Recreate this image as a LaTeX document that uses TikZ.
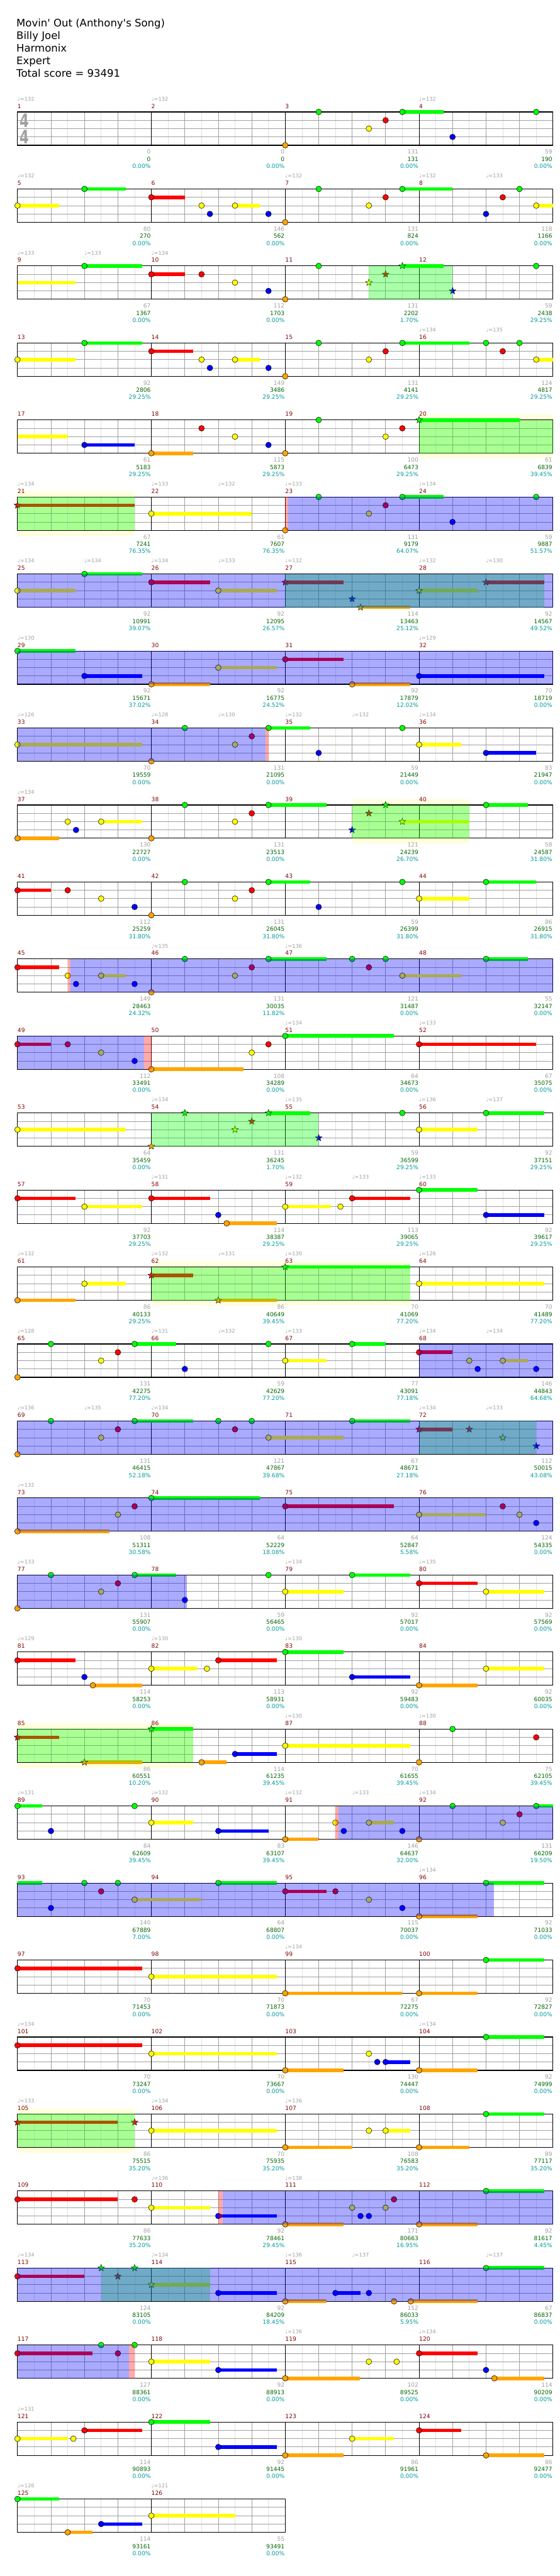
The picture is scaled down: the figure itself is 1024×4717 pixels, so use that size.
\documentclass[tikz,border=0pt]{standalone}
\usepackage{fontspec}
\setmainfont{DejaVu Sans}
\usetikzlibrary{shapes.geometric}
\definecolor{gfret}{HTML}{00FF00}
\definecolor{rfret}{HTML}{FF0000}
\definecolor{yfret}{HTML}{FFFF00}
\definecolor{bfret}{HTML}{0000FF}
\definecolor{ofret}{HTML}{FFA500}
\colorlet{lane0}{gfret}
\colorlet{lane1}{rfret}
\colorlet{lane2}{yfret}
\colorlet{lane3}{bfret}
\colorlet{lane4}{ofret}
\definecolor{barred}{HTML}{800000}
\definecolor{softgrey}{HTML}{A0A0A0}
\definecolor{sumgreen}{HTML}{006400}
\definecolor{pctteal}{HTML}{009999}
\definecolor{gridlite}{HTML}{E0E0E0}
\definecolor{spband}{HTML}{FFFFDD}
% one row of gems: sustains first, heads on top
\newcommand{\sustains}[1]{\foreach \a/\e/\l in {#1} {\draw[sus,lane\l] (\a,\l) -- (\e,\l);}}
\newcommand{\gems}[1]{\foreach \a/\l in {#1} {\draw[nt,fill=lane\l] (\a,\l) circle[radius=5.2pt];}}
\newcommand{\stargems}[1]{\foreach \a/\l in {#1} {\node[spstar,fill=lane\l] at (\a,\l) {};}}

\begin{document}
\begin{tikzpicture}[x=1pt,y=-1pt,
  chartrow/.style={shift={(32pt,{-205pt-141pt*#1})},x=61.25pt,y=-15.25pt},
  nt/.style={draw=black,line width=0.6pt},
  sus/.style={line width=6.5pt},
  spstar/.style={star,star points=5,star point ratio=2.4,minimum size=13pt,inner sep=0pt,draw=black,line width=0.5pt},
  spzone/.style={fill=green,fill opacity=0.333},
  odzone/.style={fill=blue,fill opacity=0.333},
  actzone/.style={fill=red,fill opacity=0.333},
  band/.style={fill=spband},
  head/.style={anchor=base west,inner sep=0pt,font=\fontsize{19}{23}\selectfont},
  barno/.style={anchor=base west,inner sep=0pt,text=barred,font=\fontsize{10.5}{12}\selectfont},
  tempo/.style={anchor=base west,inner sep=0pt,text=softgrey,font=\fontsize{9.5}{11}\selectfont},
  lbl/.style={anchor=base east,inner sep=0pt,font=\fontsize{10.5}{12}\selectfont}
]
\useasboundingbox (0,0) rectangle (1024,4717);
\fill[white] (0,0) rectangle (1024,4717);

\node[head] (title) at (30,49) {Movin{\textquotesingle} Out (Anthony{\textquotesingle}s Song)};
\node[head] (artist) at (30,72) {Billy Joel};
\node[head] (charter) at (30,95) {Harmonix};
\node[head] (level) at (30,118) {Expert};
\node[head] (total) at (30,141) {Total score = 93491};

% star power bands behind the staves
\begin{scope}[chartrow=4]\fill[band] (12,-0.66) rectangle (16,4.66);\end{scope}
\begin{scope}[chartrow=5]\fill[band] (0,-0.66) rectangle (3.5,4.66);\end{scope}
\begin{scope}[chartrow=9]\fill[band] (10,-0.66) rectangle (13.5,4.66);\end{scope}
\begin{scope}[chartrow=15]\fill[band] (4,-0.66) rectangle (11.74,4.66);\end{scope}
\begin{scope}[chartrow=21]\fill[band] (0,-0.66) rectangle (5.25,4.66);\end{scope}
\begin{scope}[chartrow=26]\fill[band] (0,-0.66) rectangle (3.5,4.66);\end{scope}

% staves
\foreach \r in {0,...,31}{
  \pgfmathtruncatemacro\nb{ifthenelse(\r==31,8,16)}
  \pgfmathtruncatemacro\nm{\nb/4-1}
  \begin{scope}[chartrow=\r]
    \foreach \k in {1,...,\nb} \draw[gridlite,line width=0.8pt] (\k-0.5,0) -- (\k-0.5,4);
    \foreach \k in {1,...,\nb} \draw[softgrey,line width=0.9pt] (\k,0) -- (\k,4);
    \foreach \s in {1,2,3} \draw[softgrey,line width=1pt] (0,\s) -- (\nb,\s);
    \foreach \k in {1,...,\nm} \draw[black,line width=0.9pt] (4*\k,0) -- (4*\k,4);
    \draw[line width=1.3pt] (0,0) rectangle (\nb,4);
  \end{scope}
}
\node[anchor=base,inner sep=0pt,text=softgrey,xscale=0.72,font=\fontsize{34}{34}\selectfont\bfseries] (tsup) at (44.5,233) {4};
\node[anchor=base,inner sep=0pt,text=softgrey,xscale=0.72,font=\fontsize{34}{34}\selectfont\bfseries] (tsdown) at (44.5,263) {4};

% bar numbers and scores
\foreach \m/\s/\t/\p in {1/0/0/0.00,2/0/0/0.00,3/131/131/0.00,4/59/190/0.00,
  5/80/270/0.00,6/146/562/0.00,7/131/824/0.00,8/118/1166/0.00,
  9/67/1367/0.00,10/112/1703/0.00,11/131/2202/1.70,12/59/2438/29.25,
  13/92/2806/29.25,14/149/3486/29.25,15/131/4141/29.25,16/124/4817/29.25,
  17/61/5183/29.25,18/115/5873/29.25,19/100/6473/29.25,20/61/6839/39.45,
  21/67/7241/76.35,22/61/7607/76.35,23/131/9179/64.07,24/59/9887/51.57,
  25/92/10991/39.07,26/92/12095/26.57,27/114/13463/25.12,28/92/14567/49.52,
  29/92/15671/37.02,30/92/16775/24.52,31/92/17879/12.02,32/70/18719/0.00,
  33/70/19559/0.00,34/131/21095/0.00,35/59/21449/0.00,36/83/21947/0.00,
  37/130/22727/0.00,38/131/23513/0.00,39/121/24239/26.70,40/58/24587/31.80,
  41/112/25259/31.80,42/131/26045/31.80,43/59/26399/31.80,44/86/26915/31.80,
  45/149/28463/24.32,46/131/30035/11.82,47/121/31487/0.00,48/55/32147/0.00,
  49/112/33491/0.00,50/108/34289/0.00,51/64/34673/0.00,52/67/35075/0.00,
  53/64/35459/0.00,54/131/36245/1.70,55/59/36599/29.25,56/92/37151/29.25,
  57/92/37703/29.25,58/114/38387/29.25,59/113/39065/29.25,60/92/39617/29.25,
  61/86/40133/29.25,62/86/40649/39.45,63/70/41069/77.20,64/70/41489/77.20,
  65/131/42275/77.20,66/59/42629/77.20,67/77/43091/77.18,68/146/44843/64.68,
  69/131/46415/52.18,70/121/47867/39.68,71/67/48671/27.18,72/112/50015/43.08,
  73/108/51311/30.58,74/64/52229/18.08,75/64/52847/5.58,76/124/54335/0.00,
  77/131/55907/0.00,78/59/56465/0.00,79/92/57017/0.00,80/92/57569/0.00,
  81/114/58253/0.00,82/113/58931/0.00,83/92/59483/0.00,84/92/60035/0.00,
  85/86/60551/10.20,86/114/61235/39.45,87/70/61655/39.45,88/75/62105/39.45,
  89/84/62609/39.45,90/83/63107/39.45,91/146/64637/32.00,92/131/66209/19.50,
  93/140/67889/7.00,94/64/68807/0.00,95/115/70037/0.00,96/92/71033/0.00,
  97/70/71453/0.00,98/70/71873/0.00,99/67/72275/0.00,100/92/72827/0.00,
  101/70/73247/0.00,102/70/73667/0.00,103/130/74447/0.00,104/92/74999/0.00,
  105/86/75515/35.20,106/70/75935/35.20,107/108/76583/35.20,108/89/77117/35.20,
  109/86/77633/35.20,110/92/78461/29.45,111/171/80663/16.95,112/92/81617/4.45,
  113/124/83105/0.00,114/92/84209/18.45,115/152/86033/5.95,116/67/86837/0.00,
  117/127/88361/0.00,118/92/88913/0.00,119/102/89525/0.00,120/114/90209/0.00,
  121/114/90893/0.00,122/92/91445/0.00,123/86/91961/0.00,124/86/92477/0.00,
  125/114/93161/0.00,126/55/93491/0.00}{
  \pgfmathtruncatemacro\r{(\m-1)/4}
  \pgfmathtruncatemacro\c{mod(\m-1,4)}
  \begin{scope}[chartrow=\r]
    \node[barno,yshift=6.8pt] at (4*\c,0) {\m};
    \node[lbl,text=softgrey,xshift=-1pt,yshift=-16pt] at (4*\c+4,4) {\s};
    \node[lbl,text=sumgreen,xshift=-1pt,yshift=-29.3pt] at (4*\c+4,4) {\t};
    \node[lbl,text=pctteal,xshift=-1pt,yshift=-42.2pt] at (4*\c+4,4) {\p\%};
  \end{scope}
}

% tempo marks
\foreach \r/\b/\v in {0/0/132,0/4/132,0/12/132,1/0/132,1/8/132,1/12/132,1/14/133,
  2/0/133,2/2/133,2/4/134,3/12/134,3/14/135,
  5/0/134,5/4/133,5/6/132,5/8/133,5/12/134,
  6/0/134,6/2/134,6/4/134,6/6/133,6/8/132,6/12/132,6/14/130,
  7/0/130,7/12/129,8/0/126,8/4/128,8/6/130,8/8/132,8/10/132,8/12/134,
  9/0/134,11/4/135,11/8/136,12/8/134,12/12/133,
  13/4/134,13/8/135,13/12/136,13/14/137,14/4/131,14/8/132,14/10/133,14/12/133,
  15/0/132,15/4/132,15/6/131,15/8/130,15/12/126,
  16/0/128,16/4/131,16/6/132,16/8/133,16/12/134,16/14/134,
  17/0/136,17/2/135,17/4/134,17/12/134,17/14/133,18/0/132,
  19/0/133,19/8/134,19/12/135,20/0/129,20/4/130,20/8/130,21/8/130,21/12/130,
  22/0/131,22/4/132,22/8/132,22/10/133,22/12/134,23/12/134,24/8/134,
  25/0/134,25/12/134,26/0/133,26/4/134,26/8/136,27/4/136,27/8/138,
  28/0/134,28/4/134,28/8/136,28/10/137,28/14/137,29/8/136,29/12/134,
  30/0/131,31/0/126,31/4/121}{
  \begin{scope}[chartrow=\r]
    \node[tempo,yshift=20.5pt] at (\b,0) {♩=\v};
  \end{scope}
}

% gems, row by row
\begin{scope}[chartrow=0]
  \sustains{11.5/12.73/0}
  \gems{8/4,9/0,10.5/2,11/1,11.5/0,13/3,15.5/0}
\end{scope}
\begin{scope}[chartrow=1]
  \sustains{0/1.24/2,2/3.24/0,4/5/1,6.5/7.25/2,11.5/13/0,15.5/16/2}
  \gems{0/2,2/0,4/1,5.5/2,5.75/3,6.5/2,7.5/3,8/4,9/0,10.5/2,11/1,11.5/0,14/3,14.5/1,15/0,15.5/2}
\end{scope}
\begin{scope}[chartrow=2]
  \sustains{0/1.73/2,2/3.73/0,4/5/1,11.5/12.73/0}
  \gems{2/0,4/1,5.5/1,6.5/2,7.5/3,8/4,9/0,15.5/0}
  \stargems{10.5/2,11/1,11.5/0,13/3}
  \fill[spzone] (10.5,0) rectangle (13,4);
\end{scope}
\begin{scope}[chartrow=3]
  \sustains{0/1.73/2,2/3.73/0,4/5.25/1,6.5/7.25/2,11.5/13.5/0,15.5/16/2}
  \gems{0/2,2/0,4/1,5.5/2,5.75/3,6.5/2,7.5/3,8/4,9/0,10.5/2,11/1,11.5/0,14/0,14.5/1,15/0,15.5/2}
\end{scope}
\begin{scope}[chartrow=4]
  \sustains{0/1.5/2,2/3.5/3,4/5.25/4,12/15/0}
  \gems{2/3,4/4,5.5/1,6.5/2,7.5/3,8/4,9/0,11/2,11.5/1}
  \stargems{12/0}
  \fill[spzone] (12,0) rectangle (16,4);
\end{scope}
\begin{scope}[chartrow=5]
  \sustains{0/3.5/1,4/7/2,11.5/12.73/0}
  \gems{4/2,8/4,9/0,10.5/2,11/1,11.5/0,13/3,15.5/0}
  \stargems{0/1}
  \fill[spzone] (0,0) rectangle (3.5,4);
  \fill[actzone] (8,0) rectangle (8.08,4);
  \fill[odzone] (8.08,0) rectangle (16,4);
\end{scope}
\begin{scope}[chartrow=6]
  \sustains{0/1.73/2,2/3.73/0,4/5.75/1,6/7.75/2,8/9.74/1,10.25/11.74/4,12/13.75/2,14/15.74/1}
  \gems{0/2,2/0,4/1,6/2}
  \stargems{8/1,10/3,10.25/4,12/2,14/1}
  \fill[spzone] (8,0) rectangle (15.74,4);
  \fill[odzone] (0,0) rectangle (16,4);
\end{scope}
\begin{scope}[chartrow=7]
  \sustains{0/1.73/0,2/3.73/3,4/5.75/4,6/7.75/2,8/9.74/1,10/11.74/4,12/15.74/3}
  \gems{0/0,2/3,4/4,6/2,8/1,10/4,12/3}
  \fill[odzone] (0,0) rectangle (16,4);
\end{scope}
\begin{scope}[chartrow=8]
  \sustains{0/3.73/2,7.5/8.74/0,12/13.25/2,14/15.5/3}
  \gems{0/2,4/4,5/0,6.5/2,7/1,7.5/0,9/3,11.5/0,12/2,14/3}
  \fill[odzone] (0,0) rectangle (7.42,4);
  \fill[actzone] (7.42,0) rectangle (7.5,4);
\end{scope}
\begin{scope}[chartrow=9]
  \sustains{0/1.24/4,2.5/3.73/2,7.5/9.24/0,11.5/13.5/2,14/15.25/0}
  \gems{0/4,1.5/2,1.75/3,2.5/2,4/4,5/0,6.5/2,7/1,7.5/0,14/0}
  \stargems{10/3,10.5/1,11/0,11.5/2}
  \fill[spzone] (10,0) rectangle (13.5,4);
\end{scope}
\begin{scope}[chartrow=10]
  \sustains{0/1/1,7.5/8.74/0,12/13.5/2,14/15.5/0}
  \gems{0/1,1.5/1,2.5/2,3.5/3,4/4,5/0,6.5/2,7/1,7.5/0,9/3,11.5/0,12/2,14/0}
\end{scope}
\begin{scope}[chartrow=11]
  \sustains{0/1.24/1,2.5/3.24/2,7.5/9.24/0,11.5/13.25/2,14/15.25/0}
  \gems{0/1,1.5/2,1.75/3,2.5/2,3.5/3,4/4,5/0,6.5/2,7/1,7.5/0,10/0,10.5/1,11/0,11.5/2,14/0}
  \fill[actzone] (1.5,0) rectangle (1.58,4);
  \fill[odzone] (1.58,0) rectangle (16,4);
\end{scope}
\begin{scope}[chartrow=12]
  \sustains{0/1/1,4/6.75/4,8/11.24/0,12/15.5/1}
  \gems{0/1,1.5/1,2.5/2,3.5/3,4/4,7/2,7.5/1,8/0,12/1}
  \fill[odzone] (0,0) rectangle (3.78,4);
  \fill[actzone] (3.78,0) rectangle (4,4);
\end{scope}
\begin{scope}[chartrow=13]
  \sustains{0/3.24/2,7.5/8.74/0,12/13.75/2,14/15.74/0}
  \gems{0/2,11.5/0,12/2,14/0}
  \stargems{4/4,5/0,6.5/2,7/1,7.5/0,9/3}
  \fill[spzone] (4,0) rectangle (9,4);
\end{scope}
\begin{scope}[chartrow=14]
  \sustains{0/1.73/1,2/3.73/2,4/5.75/1,6.25/7.75/4,8/9.36/2,10/11.74/1,12/13.75/0,14/15.74/3}
  \gems{0/1,2/2,4/1,6/3,6.25/4,8/2,9.65/2,10/1,12/0,14/3}
\end{scope}
\begin{scope}[chartrow=15]
  \sustains{0/1.73/4,2/3.24/2,4/5.25/1,6/7.75/4,8/11.74/0,12/15.74/2}
  \gems{0/4,2/2,12/2}
  \stargems{4/1,6/4,8/0}
  \fill[spzone] (4,0) rectangle (11.74,4);
\end{scope}
\begin{scope}[chartrow=16]
  \sustains{3.5/4.75/0,8/9.24/2,10/11/0,12/13/1,14.5/15.25/2}
  \gems{0/4,1/0,2.5/2,3/1,3.5/0,5/3,7.5/0,8/2,10/0,12/1,13.5/2,13.75/3,14.5/2,15.5/3}
  \fill[odzone] (12,0) rectangle (16,4);
\end{scope}
\begin{scope}[chartrow=17]
  \sustains{3.5/5.25/0,7.5/9.74/2,10/11.74/0,12/13/1}
  \gems{0/4,1/0,2.5/2,3/1,3.5/0,6/0,6.5/1,7/0,7.5/2,10/0}
  \stargems{12/1,13.5/1,14.5/2,15.5/3}
  \fill[spzone] (12,0) rectangle (15.5,4);
  \fill[odzone] (0,0) rectangle (16,4);
\end{scope}
\begin{scope}[chartrow=18]
  \sustains{0/2.74/4,4/7.25/0,8/11.24/1,12/14/2}
  \gems{0/4,3/2,3.5/1,4/0,8/1,12/2,14.5/1,15/2,15.5/3}
  \fill[odzone] (0,0) rectangle (16,4);
\end{scope}
\begin{scope}[chartrow=19]
  \sustains{3.5/4.75/0,8/9.74/2,10/11.74/0,12/13.75/1,14/15.74/2}
  \gems{0/4,1/0,2.5/2,3/1,3.5/0,5/3,7.5/0,8/2,10/0,12/1,14/2}
  \fill[odzone] (0,0) rectangle (5.06,4);
\end{scope}
\begin{scope}[chartrow=20]
  \sustains{0/1.73/1,2.25/3.73/4,4/5.37/2,6/7.75/1,8/9.74/0,10/11.74/3,12/13.75/4,14/15.74/2}
  \gems{0/1,2/3,2.25/4,4/2,5.66/2,6/1,8/0,10/3,12/4,14/2}
\end{scope}
\begin{scope}[chartrow=21]
  \sustains{0/1.24/1,2/3.73/4,4/5.25/0,5.5/6.25/4,6.5/7.75/3,8/11.74/2}
  \gems{5.5/4,6.5/3,8/2,12/4,13/0,15.5/1}
  \stargems{0/1,2/4,4/0}
  \fill[spzone] (0,0) rectangle (5.25,4);
\end{scope}
\begin{scope}[chartrow=22]
  \sustains{0/0.74/0,4/5.25/2,6/7.5/3,8/9/4,10.5/11.24/2,15.5/16/0}
  \gems{0/0,1/3,3.5/0,4/2,6/3,8/4,9.5/2,9.75/3,10.5/2,11.5/3,12/4,13/0,14.5/2,15/1,15.5/0}
  \fill[actzone] (9.5,0) rectangle (9.59,4);
  \fill[odzone] (9.59,0) rectangle (16,4);
\end{scope}
\begin{scope}[chartrow=23]
  \sustains{0/0.74/0,3.5/5.5/2,6/7.75/0,8/9.24/1,12/13.75/4,14/15.74/0}
  \gems{1/3,2/0,2.5/1,3/0,3.5/2,6/0,8/1,9.5/1,10.5/2,11.5/3,12/4,14/0}
  \fill[odzone] (0,0) rectangle (14.23,4);
\end{scope}
\begin{scope}[chartrow=24]
  \sustains{0/3.73/1,4/7.75/2,8/11.49/4,12/13.75/4,14/15.74/0}
  \gems{0/1,4/2,8/4,12/4,14/0}
\end{scope}
\begin{scope}[chartrow=25]
  \sustains{0/3.73/1,4/7.75/2,8/9.74/4,11/11.74/3,12/13.75/4,14/15.74/0}
  \gems{0/1,4/2,8/4,10.5/2,10.75/3,11/3,12/4,14/0}
\end{scope}
\begin{scope}[chartrow=26]
  \sustains{0/3/1,4/7.75/2,8/10/4,11/11.74/2,12/13.5/4,14/15.74/0}
  \gems{4/2,8/4,10.5/2,11/2,12/4,14/0}
  \stargems{0/1,3.5/1}
  \fill[spzone] (0,0) rectangle (3.5,4);
\end{scope}
\begin{scope}[chartrow=27]
  \sustains{0/3/1,4/5.75/2,6/7.75/3,8/9.74/4,12/13.75/4,14/15.74/0}
  \gems{0/1,3.5/1,4/2,6/3,8/4,10/2,10.25/3,10.5/3,11/2,11.25/1,12/4,14/0}
  \fill[actzone] (6,0) rectangle (6.13,4);
  \fill[odzone] (6.13,0) rectangle (16,4);
\end{scope}
\begin{scope}[chartrow=28]
  \sustains{0/2/1,4/5.75/2,6/7.75/3,8/9.24/4,9.5/10.25/3,11.75/13.75/4,14/15.74/0}
  \gems{0/1,6/3,8/4,9.5/3,10.5/3,11.25/4,11.75/4,14/0}
  \stargems{2.5/0,3/1,3.5/0,4/2}
  \fill[spzone] (2.5,0) rectangle (5.75,4);
  \fill[odzone] (0,0) rectangle (16,4);
\end{scope}
\begin{scope}[chartrow=29]
  \sustains{0/2.25/1,4/5.75/2,6/7.75/3,8/10.24/4,12/13.75/1,14.25/15.74/4}
  \gems{0/1,2.5/0,3/1,3.5/0,4/2,6/3,8/4,10.5/2,11.33/2,12/1,14/3,14.25/4}
  \fill[odzone] (0,0) rectangle (3.33,4);
  \fill[actzone] (3.33,0) rectangle (3.5,4);
\end{scope}
\begin{scope}[chartrow=30]
  \sustains{0/1.5/2,2/3.73/1,4/5.75/0,6/7.75/3,8/9.74/4,10/11.24/2,12/13.25/1,14/15.74/4}
  \gems{0/2,1.67/2,2/1,4/0,6/3,8/4,10/2,12/1,14/4}
\end{scope}
\begin{scope}[chartrow=31]
  \sustains{0/1.24/0,1.5/2.25/4,2.5/3.73/3,4/6.5/2}
  \gems{0/0,1.5/4,2.5/3,4/2}
\end{scope}
\end{tikzpicture}
\end{document}
